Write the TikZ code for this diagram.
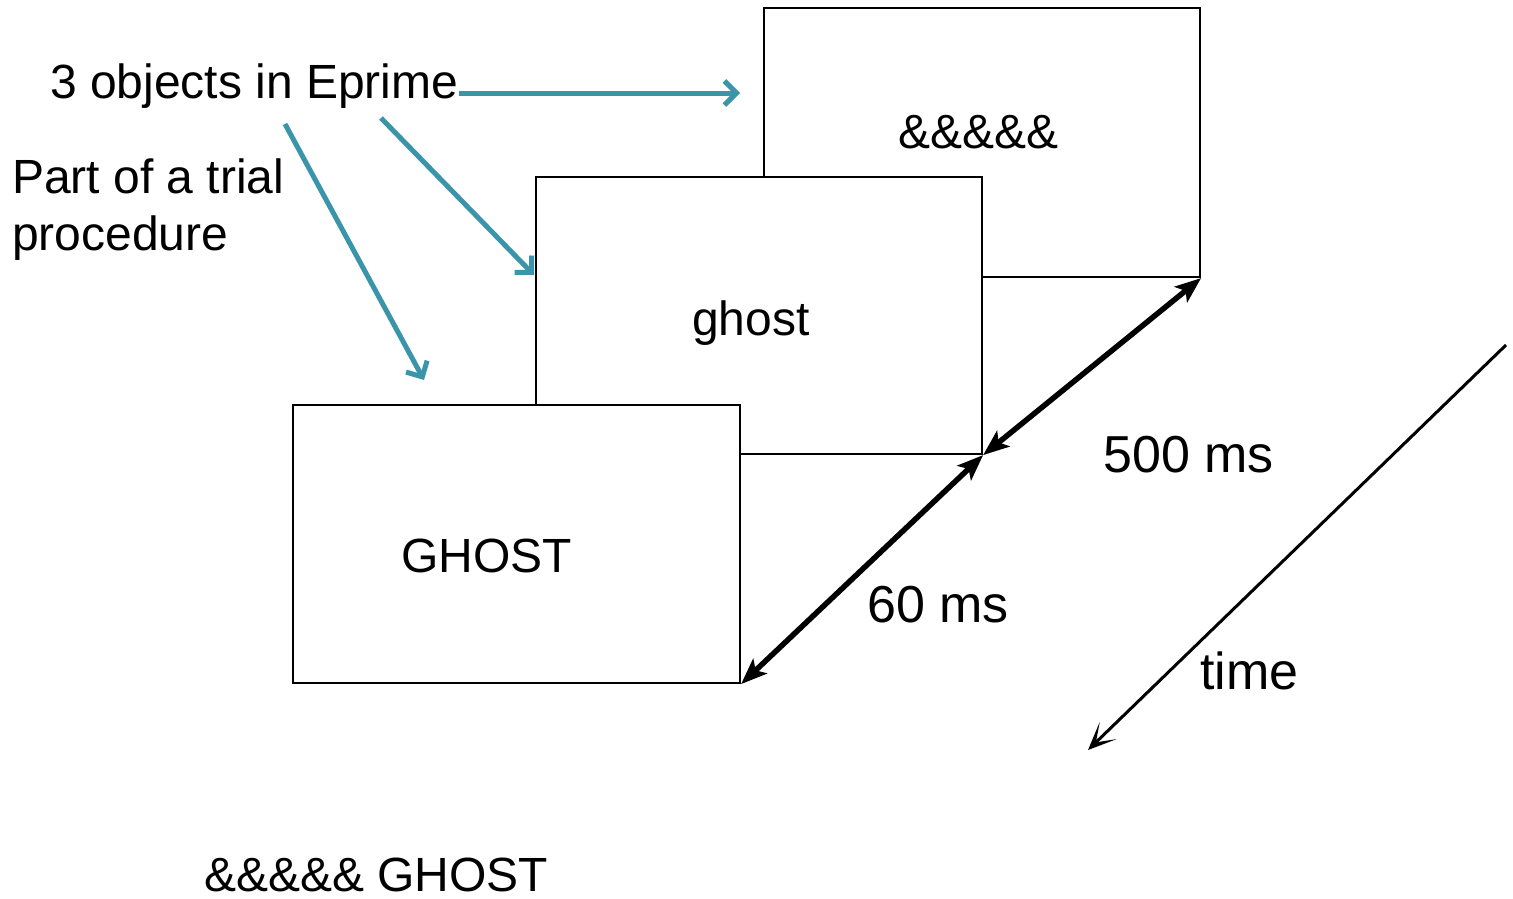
\documentclass[tikz,border=0pt]{standalone}
\usepackage{fontspec}
\setmainfont{Liberation Sans}
\usetikzlibrary{arrows.meta}
\definecolor{teal}{RGB}{58,148,170}
\tikzset{
  screen/.style={draw=black, line width=2.2pt, fill=white, inner sep=0pt},
  txt/.style={inner sep=0pt, anchor=base west, font=\fontsize{48}{57}\selectfont},
  bigtxt/.style={inner sep=0pt, anchor=base west, font=\fontsize{52}{60}\selectfont},
  pointer/.style={draw=teal, line width=5pt, -{Straight Barb[length=12pt,width=24pt]}},
  span/.style={draw=black, line width=5.5pt, {Stealth[length=26pt,width=20pt,inset=6pt]}-{Stealth[length=26pt,width=20pt,inset=6pt]}},
  timeline/.style={draw=black, line width=3pt, -{Stealth[length=28pt,width=24pt,inset=17pt]}}
}
\begin{document}
\begin{tikzpicture}[x=1pt,y=-1pt]
\useasboundingbox (0,0) rectangle (1513,898);

% three stacked screens, back to front
\node[screen, minimum width=436pt, minimum height=269pt] (back) at (982,142.5) {};
\node[screen, minimum width=446pt, minimum height=277pt] (mid) at (759,315.5) {};
\node[screen, minimum width=447pt, minimum height=278pt] (front) at (516.5,544) {};

% screen contents
\node[txt] (mask) at (898,148) {\&\&\&\&\&};
\node[txt] (prime) at (692,335) {ghost};
\node[txt] (target) at (401,572) {GHOST};

% annotations
\node[txt] (objs) at (50,98) {3 objects in Eprime};
\node[txt] (part) at (12,193) {Part of a trial};
\node[txt] (proc) at (12,250) {procedure};
\node[bigtxt] (d500) at (1103,472) {500 ms};
\node[bigtxt] (d60) at (867,622) {60 ms};
\node[bigtxt] (tlab) at (1200,689) {time};
\node[txt] (seq) at (204,891) {\&\&\&\&\& GHOST};

% teal pointers from the caption to the screens
\coordinate (p1) at (740,93);
\coordinate (p2s) at (381,118);
\coordinate (p2e) at (534,275);
\coordinate (p3s) at (285,124);
\coordinate (p3e) at (424,380);
\draw[pointer] (objs.east |- 0,93) -- (p1);
\draw[pointer] (p2s) -- (p2e);
\draw[pointer] (p3s) -- (p3e);

% durations between screens
\draw[span] (front.south east) -- (mid.south east);
\draw[span] (mid.south east) -- (back.south east);

% time axis
\coordinate (t0) at (1506,345);
\coordinate (t1) at (1088,750);
\draw[timeline] (t0) -- (t1);
\end{tikzpicture}
\end{document}
